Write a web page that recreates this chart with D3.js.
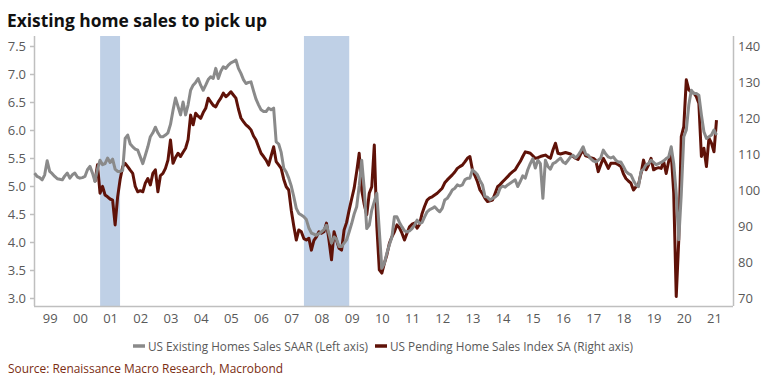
<!DOCTYPE html>
<html>
<head>
<meta charset="utf-8">
<script src="https://cdn.jsdelivr.net/npm/d3@7"></script>
<style>
  body { margin: 0; background: #fff; }
  text { font-family: "Open Sans", sans-serif; }
</style>
</head>
<body>
<div id="chart"></div>
<script>
// US existing home sales, SAAR (millions), monthly from Jan 1999
const existingSales = [
  5.23, 5.17, 5.15, 5.11, 5.20, 5.45, 5.26, 5.22, 5.17, 5.13, 5.12, 5.11, // 1999
  5.18, 5.23, 5.14, 5.20, 5.23, 5.16, 5.14, 5.15, 5.17, 5.29, 5.35, 5.23, // 2000
  5.08, 5.30, 5.46, 5.38, 5.40, 5.50, 5.42, 5.48, 5.30, 5.26, 5.26, 5.28, // 2001
  5.85, 5.91, 5.75, 5.70, 5.66, 5.64, 5.52, 5.40, 5.55, 5.70, 5.88, 5.95, // 2002
  6.05, 5.95, 5.88, 5.88, 5.91, 5.95, 6.10, 6.35, 6.57, 6.42, 6.27, 6.50, // 2003
  6.27, 6.45, 6.71, 6.80, 6.85, 6.92, 6.80, 6.71, 6.80, 6.90, 6.95, 6.92, // 2004
  7.10, 6.92, 7.05, 7.13, 7.10, 7.16, 7.20, 7.22, 7.25, 7.10, 7.01, 6.90, // 2005
  6.83, 6.85, 6.86, 6.70, 6.55, 6.45, 6.36, 6.33, 6.33, 6.39, 6.36, 6.39, // 2006
  5.79, 5.75, 5.60, 5.32, 5.25, 5.14, 5.00, 4.81, 4.60, 4.51, 4.48, 4.45, // 2007
  4.40, 4.25, 4.16, 4.14, 4.12, 4.15, 4.18, 4.22, 4.30, 4.15, 3.98, 4.09, // 2008
  4.05, 3.92, 3.92, 3.98, 4.04, 4.18, 4.33, 4.50, 4.63, 5.00, 5.46, 4.95, // 2009
  4.24, 4.30, 4.57, 4.72, 4.87, 4.20, 3.53, 3.62, 3.80, 3.95, 4.09, 4.45, // 2010
  4.45, 4.35, 4.27, 4.20, 4.18, 4.20, 4.24, 4.30, 4.39, 4.33, 4.35, 4.45, // 2011
  4.54, 4.58, 4.60, 4.63, 4.58, 4.54, 4.60, 4.75, 4.78, 4.85, 4.93, 4.96, // 2012
  5.02, 5.00, 5.02, 5.11, 5.14, 5.14, 5.29, 5.25, 5.20, 5.10, 5.02, 4.81, // 2013
  4.80, 4.75, 4.78, 4.80, 4.84, 4.96, 5.00, 4.98, 5.02, 5.05, 5.08, 5.11, // 2014
  4.99, 5.08, 5.18, 5.14, 5.29, 5.40, 5.49, 5.32, 5.46, 5.40, 4.78, 5.46, // 2015
  5.35, 5.30, 5.40, 5.42, 5.46, 5.50, 5.43, 5.40, 5.46, 5.52, 5.55, 5.50, // 2016
  5.55, 5.62, 5.70, 5.57, 5.55, 5.49, 5.45, 5.43, 5.46, 5.50, 5.64, 5.57, // 2017
  5.52, 5.50, 5.52, 5.46, 5.43, 5.43, 5.35, 5.26, 5.22, 5.20, 5.10, 5.02, // 2018
  4.99, 5.26, 5.30, 5.38, 5.40, 5.46, 5.42, 5.38, 5.40, 5.42, 5.45, 5.49, // 2019
  5.52, 5.70, 5.40, 4.87, 4.04, 4.85, 5.88, 6.00, 6.45, 6.71, 6.65, 6.65, // 2020
  6.62, 6.27, 5.97, 5.85, 5.88, 5.91, 6.00, 5.91                          // 2021
];
const existingStart = 1999;

// US pending home sales index SA, monthly from Jan 2001
const pendingSales = [
  102.3, 107.0, 99.1, 101.0, 98.6, 98.1, 97.5, 97.2, 90.3, 98.1, 103.0, 106.5,     // 2001
  107.4, 106.5, 105.5, 104.6, 101.0, 99.5, 99.8, 99.5, 101.9, 103.2, 101.4, 104.6, // 2002
  105.6, 99.5, 104.0, 104.6, 106.0, 108.3, 113.9, 107.4, 109.0, 110.2, 109.3, 110.5, // 2003
  111.6, 114.0, 120.8, 118.1, 121.3, 120.5, 119.9, 121.5, 122.7, 125.5, 124.5, 123.5, // 2004
  123.1, 124.5, 125.5, 126.9, 125.9, 126.5, 127.3, 126.4, 125.5, 122.5, 120.0, 119.0, // 2005
  118.1, 117.5, 116.7, 115.0, 113.9, 112.0, 110.2, 109.3, 108.3, 106.9, 109.5, 112.0, // 2006
  107.9, 107.0, 106.0, 103.0, 100.9, 100.0, 94.4, 90.0, 86.1, 88.9, 88.4, 86.5,     // 2007
  86.1, 86.6, 83.3, 86.0, 87.0, 88.4, 88.0, 88.4, 90.8, 86.0, 80.6, 88.4,           // 2008
  86.0, 83.8, 83.3, 88.9, 91.0, 94.4, 97.5, 100.5, 105.1, 110.2, 100.0, 96.0,       // 2009
  93.1, 99.1, 100.9, 112.5, 90.0, 77.8, 76.9, 79.6, 82.0, 85.2, 87.0, 88.4,         // 2010
  90.3, 89.5, 88.0, 86.1, 88.0, 89.8, 90.5, 90.8, 89.4, 90.5, 93.5, 95.5,           // 2011
  97.2, 97.8, 98.1, 98.6, 99.1, 99.8, 100.5, 102.0, 102.8, 103.5, 104.2, 105.0,     // 2012
  106.0, 106.5, 106.9, 107.8, 108.8, 109.3, 105.6, 104.0, 102.3, 100.0, 99.0, 97.7, // 2013
  96.8, 97.0, 97.2, 99.0, 100.9, 101.5, 102.3, 103.0, 103.7, 104.5, 105.1, 105.6,   // 2014
  106.8, 107.9, 109.3, 110.6, 110.4, 110.2, 109.5, 108.8, 109.0, 109.3, 109.5, 109.7, // 2015
  109.2, 108.8, 111.1, 113.0, 110.2, 110.0, 110.2, 110.4, 110.2, 110.0, 109.3, 108.8, // 2016
  108.5, 110.0, 111.0, 109.5, 109.3, 109.0, 108.8, 108.3, 105.1, 107.0, 108.8, 107.5, // 2017
  106.0, 107.4, 107.4, 107.4, 107.0, 106.5, 104.5, 103.2, 102.5, 101.9, 100.0, 100.9, // 2018
  101.5, 104.6, 108.3, 105.6, 107.0, 108.8, 105.6, 106.0, 106.2, 106.0, 107.9, 104.6, // 2019
  108.0, 110.2, 99.1, 70.4, 86.1, 114.8, 117.6, 130.6, 127.8, 127.2, 126.9, 125.9,  // 2020
  124.0, 109.3, 111.6, 106.5, 114.4, 113.0, 110.6, 119.4                             // 2021
];
const pendingStart = 2001;

// recessions, as decimal years
const recessions = [[2001.17, 2001.83], [2007.92, 2009.42]];

const leftTicks = [3.0, 3.5, 4.0, 4.5, 5.0, 5.5, 6.0, 6.5, 7.0, 7.5];
const rightTicks = [70, 80, 90, 100, 110, 120, 130, 140];
const yearTicks = d3.range(1999, 2022);

const svgWidth = 767, svgHeight = 384,
      plot = {left: 34, right: 733, top: 36, bottom: 306};

const scaleX = d3.scaleLinear().domain([1998.98, 2022.13]).range([plot.left, plot.right]),
      scaleYL = d3.scaleLinear().domain([3, 7.5]).range([298, 46]),
      scaleYR = d3.scaleLinear().domain([70, 140]).range([298, 46]);

const svg = d3.select("#chart")
  .append("svg")
  .attr("width", svgWidth)
  .attr("height", svgHeight);

svg.append("rect").attr("width", svgWidth).attr("height", svgHeight).attr("fill", "#fff");

// title
svg.append("text")
  .attr("x", 7).attr("y", 27)
  .attr("textLength", 260).attr("lengthAdjust", "spacingAndGlyphs")
  .style("font-size", "17.5px").style("font-weight", "bold").attr("fill", "#111")
  .text("Existing home sales to pick up");

// recession shading
svg.append("g").selectAll("rect")
  .data(recessions)
  .enter().append("rect")
  .attr("x", d => scaleX(d[0]))
  .attr("y", plot.top)
  .attr("width", d => scaleX(d[1]) - scaleX(d[0]))
  .attr("height", plot.bottom - plot.top)
  .attr("fill", "#bfd0e6");

// axes
const axisColor = "#bfbfbf", labelColor = "#595959";

const yAxisL = svg.append("g")
  .attr("transform", "translate(" + plot.left + ",0)")
  .call(d3.axisLeft(scaleYL).tickValues(leftTicks).tickFormat(d3.format(".1f"))
    .tickSizeInner(4).tickSizeOuter(0).tickPadding(4));

const yAxisR = svg.append("g")
  .attr("transform", "translate(" + plot.right + ",0)")
  .call(d3.axisRight(scaleYR).tickValues(rightTicks)
    .tickSizeInner(0).tickSizeOuter(0).tickPadding(5));

const xAxis = svg.append("g")
  .attr("transform", "translate(0," + plot.bottom + ")")
  .call(d3.axisBottom(scaleX).tickValues(yearTicks.map(y => y + 0.5))
    .tickFormat(d => d3.format("02")(Math.floor(d) % 100))
    .tickSizeInner(0).tickSizeOuter(0).tickPadding(8));

// stretch the axis lines over the full plot area
yAxisL.select(".domain").attr("d", "M0.5," + plot.top + "V" + plot.bottom);
yAxisR.select(".domain").attr("d", "M0.5," + plot.top + "V" + plot.bottom);
xAxis.select(".domain").attr("d", "M" + plot.left + ",0.5H" + plot.right);

[yAxisL, yAxisR, xAxis].forEach(a => {
  a.selectAll(".domain, line").attr("stroke", axisColor).attr("stroke-width", 1.5);
  a.selectAll("text").attr("fill", labelColor).style("font-size", "13px")
    .style("font-family", "'Open Sans', sans-serif");
});

// series lines
const existingPts = existingSales.map((v, i) => ({t: existingStart + i / 12, v: v}));
const pendingPts = pendingSales.map((v, i) => ({t: pendingStart + i / 12, v: v}));

const lineL = d3.line().x(d => scaleX(d.t)).y(d => scaleYL(d.v));
const lineR = d3.line().x(d => scaleX(d.t)).y(d => scaleYR(d.v));

svg.append("path").datum(pendingPts)
  .attr("d", lineR).attr("fill", "none")
  .attr("stroke", "#5f1208").attr("stroke-width", 3).attr("stroke-linejoin", "round");

svg.append("path").datum(existingPts)
  .attr("d", lineL).attr("fill", "none")
  .attr("stroke", "#8a8a8a").attr("stroke-width", 3).attr("stroke-linejoin", "round");

// legend
const legend = [
  {label: "US Existing Homes Sales SAAR (Left axis)", color: "#8a8a8a", x: 133, w: 220},
  {label: "US Pending Home Sales Index SA (Right axis)", color: "#5f1208", x: 375, w: 243}
];
const lg = svg.append("g").selectAll("g").data(legend).enter().append("g");
lg.append("line")
  .attr("x1", d => d.x).attr("x2", d => d.x + 12)
  .attr("y1", 346).attr("y2", 346)
  .attr("stroke", d => d.color).attr("stroke-width", 3.5);
lg.append("text")
  .attr("x", d => d.x + 15).attr("y", 346).attr("dy", "0.35em")
  .attr("textLength", d => d.w).attr("lengthAdjust", "spacingAndGlyphs")
  .style("font-size", "13px").attr("fill", labelColor)
  .text(d => d.label);

// source note
svg.append("text")
  .attr("x", 8).attr("y", 368).attr("dy", "0.35em")
  .attr("textLength", 275).attr("lengthAdjust", "spacingAndGlyphs")
  .style("font-size", "13.5px").attr("fill", "#7b2e12")
  .text("Source: Renaissance Macro Research, Macrobond");
</script>
</body>
</html>
